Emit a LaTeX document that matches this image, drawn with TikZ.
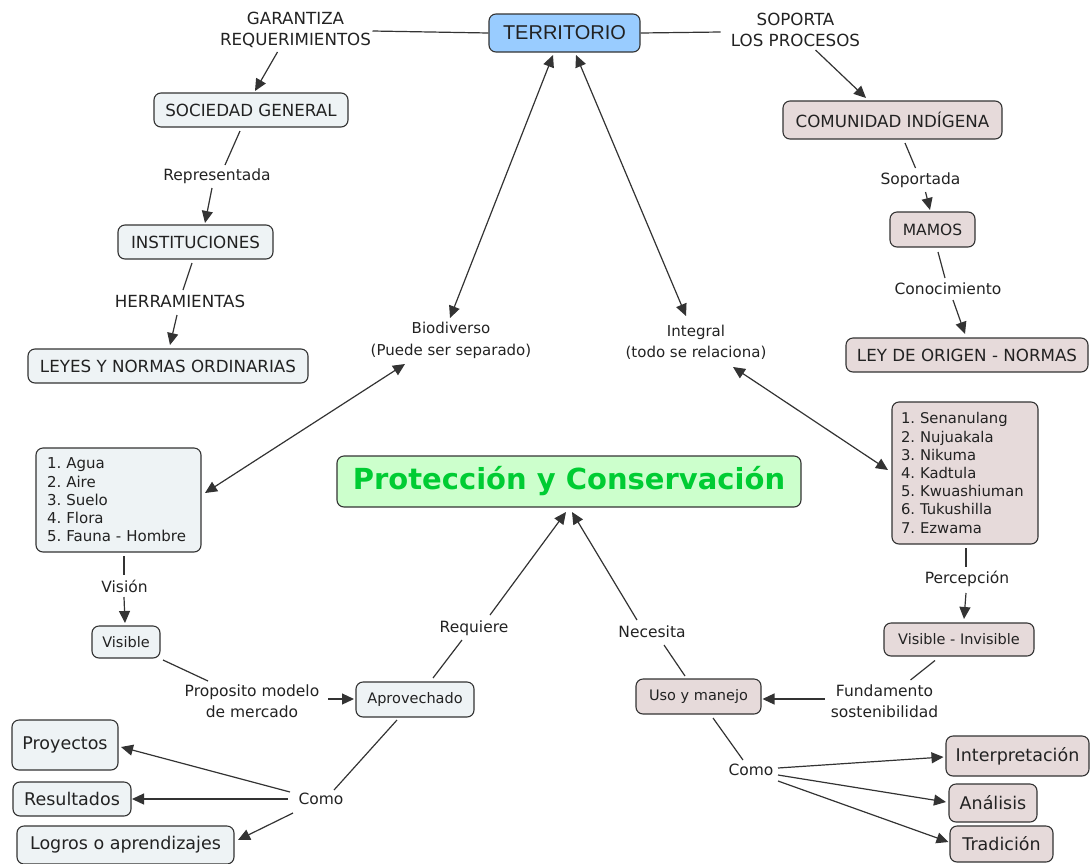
\documentclass[tikz,border=0pt]{standalone}
\usepackage{fontspec}
\setmainfont{DejaVu Sans}
\newfontfamily\arialf{Liberation Sans}
\usetikzlibrary{arrows.meta,calc}
\definecolor{lboxc}{HTML}{EEF3F5}
\definecolor{rboxc}{HTML}{E6DADA}
\definecolor{tboxc}{HTML}{99CCFF}
\definecolor{gboxc}{HTML}{CCFFCC}
\definecolor{gtext}{HTML}{00CC33}
\definecolor{edgec}{HTML}{333333}
\definecolor{txtc}{HTML}{222222}
\newcommand\fsz[2]{\fontsize{#1}{#2}\selectfont}
\frenchspacing
\hyphenpenalty=10000
\begin{document}
\begin{tikzpicture}[x=1pt,y=-1pt,
  box/.style={draw=edgec, line width=1.1pt, rounded corners=7pt, inner sep=0pt, text=txtc, font=\fsz{16.7}{19}, align=center},
  lbx/.style={box, fill=lboxc},
  rbx/.style={box, fill=rboxc},
  small/.style={font=\fsz{14.5}{18}},
  big/.style={font=\fsz{17.5}{21}},
  listbox/.style={font=\fsz{15}{18.2}, align=left, inner xsep=11pt, inner ysep=0pt},
  lab/.style={text=txtc, font=\fsz{15.5}{21}, align=center, inner sep=1pt},
  caps/.style={font=\fsz{16.7}{21}},
  con/.style={draw=edgec, line width=1.2pt},
  arr/.style={con, -{Triangle[length=12pt,width=11pt]}},
  darr/.style={con, {Triangle[length=12pt,width=11pt]}-{Triangle[length=12pt,width=11pt]}}
]
\useasboundingbox (0,0) rectangle (1090,863);
% nodes
\node[box, fill=tboxc, minimum width=151pt, minimum height=38pt, font=\arialf\fsz{20}{24}] (terr) at (564.5,33) {TERRITORIO};
\node[lab, caps] (garl) at (295.5,30) {GARANTIZA\\REQUERIMIENTOS};
\node[lab, caps] (sopl) at (795.5,30) {SOPORTA\\LOS PROCESOS};
\node[lbx, minimum width=194pt, minimum height=34pt] (soc) at (251,110) {SOCIEDAD GENERAL};
\node[rbx, minimum width=219pt, minimum height=38pt] (com) at (892.5,120) {COMUNIDAD INDÍGENA};
\node[lab] (soport) at (920.5,180) {Soportada};
\node[rbx, minimum width=85pt, minimum height=35pt, font=\fsz{15.5}{19}] (mamos) at (932.5,229.5) {MAMOS};
\node[lab] (conoc) at (948,289) {Conocimiento};
\node[rbx, minimum width=242pt, minimum height=34pt] (ley) at (967,355) {LEY DE ORIGEN - NORMAS};
\node[lab] (repr) at (217,176) {Representada};
\node[lbx, minimum width=155pt, minimum height=34pt] (inst) at (195.5,242) {INSTITUCIONES};
\node[lab, caps] (herr) at (180,301) {HERRAMIENTAS};
\node[lbx, minimum width=280pt, minimum height=34pt] (leyes) at (168,366) {LEYES Y NORMAS ORDINARIAS};
\node[lab, font=\fsz{15}{22}] (bio) at (451,340) {Biodiverso\\(Puede ser separado)};
\node[lab, font=\fsz{15}{21}] (integ) at (696,342) {Integral\\(todo se relaciona)};
\node[lbx, listbox, text width=143pt, minimum height=104pt] (lista) at (118.5,500) {1. Agua\\2. Aire\\3. Suelo\\4. Flora\\5. Fauna - Hombre};
\node[rbx, listbox, inner xsep=9pt, font=\fsz{14.8}{18.2}, text width=128pt, minimum height=142pt] (listb) at (965,473) {1. Senanulang\\2. Nujuakala\\3. Nikuma\\4. Kadtula\\5. Kwuashiuman\\6. Tukushilla\\7. Ezwama};
\node[box, fill=gboxc, minimum width=464pt, minimum height=51pt, text=gtext, font=\bfseries\fsz{29}{32}] (prot) at (569,481.5) {Protección y Conservación};
\node[lab] (vision) at (124.5,586) {Visión};
\node[lbx, small, minimum width=68pt, minimum height=32pt] (visible) at (126,642) {Visible};
\node[lab] (percep) at (967,579) {Percepción};
\node[rbx, small, minimum width=150pt, minimum height=33pt] (visinv) at (959,639.5) {Visible - Invisible};
\node[lab] (prop) at (252,701) {Proposito modelo\\de mercado};
\node[lbx, small, minimum width=118pt, minimum height=35pt] (aprov) at (415,699.5) {Aprovechado};
\node[lab] (req) at (474,628) {Requiere};
\node[lab] (nec) at (652,632) {Necesita};
\node[rbx, small, minimum width=125pt, minimum height=35pt] (uso) at (698.5,696.5) {Uso y manejo};
\node[lab] (fund) at (884.5,701) {Fundamento\\sostenibilidad};
\node[lab] (comol) at (321,799) {Como};
\node[lbx, big, minimum width=106pt, minimum height=50pt] (proy) at (65,745) {Proyectos};
\node[lbx, big, minimum width=118pt, minimum height=34pt] (res) at (72,799) {Resultados};
\node[lbx, big, minimum width=217pt, minimum height=38pt] (logros) at (125.5,845) {Logros o aprendizajes};
\node[lab] (comor) at (751,770) {Como};
\node[rbx, big, minimum width=143pt, minimum height=40pt] (interp) at (1017.5,756) {Interpretación};
\node[rbx, big, minimum width=88pt, minimum height=38pt] (anal) at (993,803) {Análisis};
\node[rbx, big, minimum width=103pt, minimum height=36pt] (trad) at (1001.5,844) {Tradición};
% connectors
\draw[con] (terr.west) -- ($(garl)+(77,1)$);
\draw[arr] ($(garl)+(-18,22)$) -- ($(soc)+(4,-19)$);
\draw[con] (terr.east) -- ($(sopl)+(-75,2)$);
\draw[arr] ($(sopl)+(20,20)$) -- ($(com)+(-26.5,-22)$);
\draw[con] ($(com)+(12.5,23)$) -- ($(soport)+(-5,-12)$);
\draw[arr] ($(soport)+(5,12)$) -- ($(mamos)+(-2.5,-19.5)$);
\draw[con] ($(mamos)+(5.5,22.5)$) -- ($(conoc)+(-3,-11)$);
\draw[arr] ($(conoc)+(5,11)$) -- ($(ley)+(-2,-21)$);
\draw[con] ($(soc)+(-11,21)$) -- ($(repr)+(8,-11)$);
\draw[arr] ($(repr)+(-5,12)$) -- ($(inst)+(9.5,-19)$);
\draw[con] ($(inst)+(-3.5,21)$) -- ($(herr)+(3,-11)$);
\draw[arr] ($(herr)+(-3,14)$) -- ($(leyes)+(2,-21)$);
\draw[darr] ($(bio)+(-1,-22)$) -- ($(terr)+(-11.5,22)$);
\draw[darr] ($(integ)+(-10,-26)$) -- ($(terr)+(11.5,22)$);
\draw[darr] ($(bio)+(-46,24)$) -- ($(lista)+(86.5,-7)$);
\draw[darr] ($(integ)+(37,25)$) -- ($(listb)+(-77,-3)$);
\draw[con] ($(lista)+(5.5,56)$) -- ($(vision)+(-0.5,-11)$);
\draw[arr] ($(vision)+(-0.5,11)$) -- ($(visible)+(-1,-19)$);
\draw[con] ($(listb)+(1,75)$) -- ($(percep)+(-1,-12)$);
\draw[arr] ($(percep)+(-1,14)$) -- ($(visinv)+(5,-20.5)$);
\draw[con] ($(visible)+(37,18)$) -- ($(prop)+(-44,-20)$);
\draw[arr] ($(prop)+(76,-2)$) -- ($(aprov)+(-61,-0.5)$);
\draw[con] ($(aprov)+(18,-21.5)$) -- ($(req)+(-12,12)$);
\draw[arr] ($(req)+(16,-13)$) -- ($(prot)+(-3,30.5)$);
\draw[con] ($(uso)+(-13.5,-20.5)$) -- ($(nec)+(12,13)$);
\draw[arr] ($(nec)+(-15,-12)$) -- ($(prot)+(3,30.5)$);
\draw[con] ($(visinv)+(-24,21)$) -- ($(fund)+(26,-21)$);
\draw[arr] ($(fund)+(-60,-2)$) -- ($(uso)+(64,2.5)$);
\draw[con] ($(aprov)+(-18,20.5)$) -- ($(comol)+(13,-9)$);
\draw[arr] ($(comol)+(-31,-7)$) -- ($(proy)+(56,2)$);
\draw[arr] ($(comol)+(-33,0)$) -- ($(res)+(60,0)$);
\draw[arr] ($(comol)+(-28,14)$) -- ($(logros)+(112.5,-5)$);
\draw[con] ($(uso)+(14.5,21.5)$) -- ($(comor)+(-8,-10)$);
\draw[arr] ($(comor)+(27,-2)$) -- ($(interp)+(-74,1)$);
\draw[arr] ($(comor)+(27,5)$) -- ($(anal)+(-47,-1)$);
\draw[arr] ($(comor)+(27,11)$) -- ($(trad)+(-53,-2)$);
\end{tikzpicture}
\end{document}
